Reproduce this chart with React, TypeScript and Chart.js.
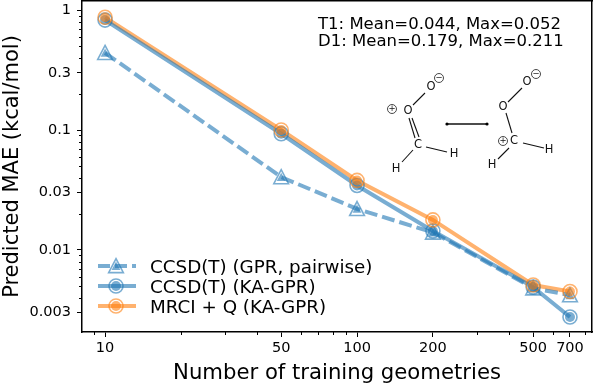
import React, { useEffect, useRef } from "react";
import { Chart, registerables } from "chart.js";

Chart.register(...registerables);

const FONT = "'DejaVu Sans'";
const trainingSizes = [10, 50, 100, 200, 500, 700];
const gprPairwise = [0.44, 0.0405, 0.022, 0.014, 0.0048, 0.0042];
const kaGpr = [0.825, 0.093, 0.0345, 0.0144, 0.0049, 0.00276];
const mrciKaGpr = [0.87, 0.1, 0.038, 0.0178, 0.0051, 0.0045];
const seriesLabels = ["CCSD(T) (GPR, pairwise)", "CCSD(T) (KA-GPR)", "MRCI + Q (KA-GPR)"];
const yMajorTicks = [1, 0.3, 0.1, 0.03, 0.01, 0.003];
const yMinorTicks = [0.9, 0.8, 0.7, 0.6, 0.5, 0.4, 0.2, 0.09, 0.08, 0.07, 0.06, 0.05, 0.04, 0.02, 0.009, 0.008, 0.007, 0.006, 0.005, 0.004, 0.002];
const xMajorTicks = [10, 50, 100, 200, 500, 700];
const xMinorTicks = [9, 20, 30, 40, 60, 70, 80, 90, 300, 400, 600, 800];
const annotationLines = ["T1: Mean=0.044, Max=0.052", "D1: Mean=0.179, Max=0.211"];

const BLUE = "rgba(31,119,180,0.6)";
const ORANGE = "rgba(255,127,14,0.6)";

function marker(ctx: CanvasRenderingContext2D, kind: string, x: number, y: number, color: string) {
  ctx.save();
  ctx.strokeStyle = color;
  ctx.fillStyle = color;
  ctx.lineWidth = 1.6;
  const path = (r: number) => {
    ctx.beginPath();
    if (kind === "circle") ctx.arc(x, y, r, 0, Math.PI * 2);
    else {
      ctx.moveTo(x, y - r * 1.05);
      ctx.lineTo(x + r * 1.05, y + r * 0.95);
      ctx.lineTo(x - r * 1.05, y + r * 0.95);
      ctx.closePath();
    }
  };
  path(7);
  ctx.stroke();
  path(kind === "circle" ? 5 : 4.2);
  ctx.fill();
  ctx.restore();
}

const decorations = {
  id: "decorations",
  afterDatasetsDraw(chart: any) {
    const { ctx, scales } = chart;
    const area = chart.chartArea;
    ctx.save();
    chart.data.datasets.forEach((ds: any, i: number) => {
      const kind = i === 0 ? "triangle" : "circle";
      const col = i === 2 ? ORANGE : BLUE;
      ds.data.forEach((p: any) => marker(ctx, kind, scales.x.getPixelForValue(p.x), scales.y.getPixelForValue(p.y), col));
    });
    ctx.strokeStyle = "#000";
    ctx.lineWidth = 1;
    yMinorTicks.forEach((v) => {
      const py = Math.round(scales.y.getPixelForValue(v)) + 0.5;
      if (py < area.top || py > area.bottom) return;
      ctx.beginPath();
      ctx.moveTo(area.left - 3, py);
      ctx.lineTo(area.left, py);
      ctx.stroke();
    });
    xMinorTicks.forEach((v) => {
      const px = Math.round(scales.x.getPixelForValue(v)) + 0.5;
      ctx.beginPath();
      ctx.moveTo(px, area.bottom);
      ctx.lineTo(px, area.bottom + 3);
      ctx.stroke();
    });
    ctx.fillStyle = "#000";
    ctx.textBaseline = "alphabetic";
    ctx.textAlign = "left";
    ctx.font = `16.5px ${FONT}`;
    ctx.fillText(annotationLines[0], 318, 29);
    ctx.fillText(annotationLines[1], 318, 46);
    ctx.font = `18.3px ${FONT}`;
    const rows = [266, 286, 306];
    seriesLabels.forEach((label, i) => {
      const y = rows[i];
      const col = i === 2 ? ORANGE : BLUE;
      ctx.strokeStyle = col;
      ctx.lineWidth = 4;
      ctx.setLineDash(i === 0 ? [12, 5] : []);
      ctx.beginPath();
      ctx.moveTo(98, y);
      ctx.lineTo(136, y);
      ctx.stroke();
      ctx.setLineDash([]);
      marker(ctx, i === 0 ? "triangle" : "circle", 116, y, col);
      ctx.fillStyle = "#000";
      ctx.fillText(label, 150, y + 6.5);
    });
    const seg = (pts: number[], w = 1.1) => {
      ctx.strokeStyle = "#111";
      ctx.lineWidth = w;
      ctx.beginPath();
      ctx.moveTo(pts[0], pts[1]);
      ctx.lineTo(pts[2], pts[3]);
      ctx.stroke();
    };
    [
      [413, 105, 425, 93], [409, 118, 415, 138], [412, 118, 419, 137], [413, 150, 402, 162], [426, 147, 447, 152],
      [508, 102, 522, 88], [506, 113, 512, 133], [509, 148, 498, 159], [523, 143, 544, 148],
    ].forEach((s) => seg(s));
    seg([448, 124, 486, 124], 1.6);
    ctx.fillStyle = "#000";
    [[447, 124], [487, 124]].forEach(([x, y]) => {
      ctx.beginPath();
      ctx.arc(x, y, 1.6, 0, Math.PI * 2);
      ctx.fill();
    });
    const atoms: [string, number, number][] = [
      ["O", 408, 111], ["O", 431, 87], ["C", 418, 145], ["H", 454, 154], ["H", 396, 169],
      ["O", 503, 107], ["O", 527, 82], ["C", 514, 141], ["H", 549, 150], ["H", 492, 165],
    ];
    ctx.fillStyle = "#111";
    ctx.textAlign = "center";
    ctx.textBaseline = "middle";
    ctx.font = `11.5px ${FONT}`;
    atoms.forEach(([t, x, y]) => ctx.fillText(t, x, y));
    const charge = (t: string, x: number, y: number) => {
      ctx.beginPath();
      ctx.arc(x, y, 4.5, 0, Math.PI * 2);
      ctx.lineWidth = 0.9;
      ctx.strokeStyle = "#333";
      ctx.stroke();
      ctx.font = `8.5px ${FONT}`;
      ctx.fillText(t, x, y);
    };
    charge("−", 439, 78);
    charge("+", 392, 109);
    charge("−", 536, 74);
    charge("+", 503, 141);
    ctx.restore();
  },
};

export default function App() {
  const ref = useRef<HTMLCanvasElement>(null);
  useEffect(() => {
    const toPts = (vals: number[]) => vals.map((y, i) => ({ x: trainingSizes[i], y }));
    const chart = new Chart(ref.current!, {
      type: "line",
      data: {
        datasets: [
          { label: seriesLabels[0], data: toPts(gprPairwise), borderColor: BLUE, borderWidth: 4, borderDash: [13, 5], pointRadius: 0 },
          { label: seriesLabels[1], data: toPts(kaGpr), borderColor: BLUE, borderWidth: 4, pointRadius: 0 },
          { label: seriesLabels[2], data: toPts(mrciKaGpr), borderColor: ORANGE, borderWidth: 4, pointRadius: 0 },
        ],
      },
      options: {
        animation: false,
        responsive: false,
        layout: { autoPadding: false, padding: { top: 1, right: 2, left: 0, bottom: 0 } },
        plugins: { legend: { display: false }, tooltip: { enabled: false } },
        scales: {
          x: {
            type: "logarithmic",
            min: 8.1,
            max: 856,
            afterBuildTicks: (s: any) => { s.ticks = xMajorTicks.map((value) => ({ value, major: true })); },
            afterFit: (s: any) => { s.height = 54; s.paddingLeft = 0; s.paddingRight = 0; },
            ticks: { autoSkip: false, maxRotation: 0, padding: 3, color: "#000", font: { family: FONT, size: 14.5 }, callback: (v: any) => String(v) },
            grid: { drawOnChartArea: false, drawTicks: true, tickLength: 5, tickColor: "#000", tickWidth: 1 },
            border: { color: "#000", width: 1.5 },
            title: { display: true, text: "Number of training geometries", color: "#000", font: { family: FONT, size: 21.2 }, padding: { top: 3, bottom: 0 } },
          },
          y: {
            type: "logarithmic",
            min: 0.00207,
            max: 1.19,
            afterBuildTicks: (s: any) => { s.ticks = yMajorTicks.map((value) => ({ value, major: true })); },
            afterFit: (s: any) => { s.width = 82; s.paddingTop = 0; s.paddingBottom = 0; },
            ticks: { autoSkip: false, padding: 6, color: "#000", font: { family: FONT, size: 14.5 }, callback: (v: any) => String(v) },
            grid: { drawOnChartArea: false, drawTicks: true, tickLength: 5, tickColor: "#000", tickWidth: 1 },
            border: { color: "#000", width: 1.5 },
            title: { display: true, text: "Predicted MAE (kcal/mol)", color: "#000", font: { family: FONT, size: 21 }, padding: { top: 0, bottom: 4 } },
          },
          xTop: { type: "logarithmic", position: "top", display: true, min: 8.1, max: 856, afterFit: (s: any) => { s.height = 0; s.paddingLeft = 0; s.paddingRight = 0; }, ticks: { display: false }, grid: { display: false, drawTicks: false }, border: { color: "#000", width: 1.5 } },
          yRight: { type: "logarithmic", position: "right", display: true, min: 0.00207, max: 1.19, afterFit: (s: any) => { s.width = 0; s.paddingTop = 0; s.paddingBottom = 0; }, ticks: { display: false }, grid: { display: false, drawTicks: false }, border: { color: "#000", width: 1.5 } },
        },
      } as any,
      plugins: [decorations],
    });
    return () => chart.destroy();
  }, []);
  return (
    <div style={{ position: "fixed", left: 0, top: 0, width: 594, height: 386, background: "#fff" }}>
      <canvas ref={ref} width={594} height={386} style={{ display: "block" }} />
    </div>
  );
}
